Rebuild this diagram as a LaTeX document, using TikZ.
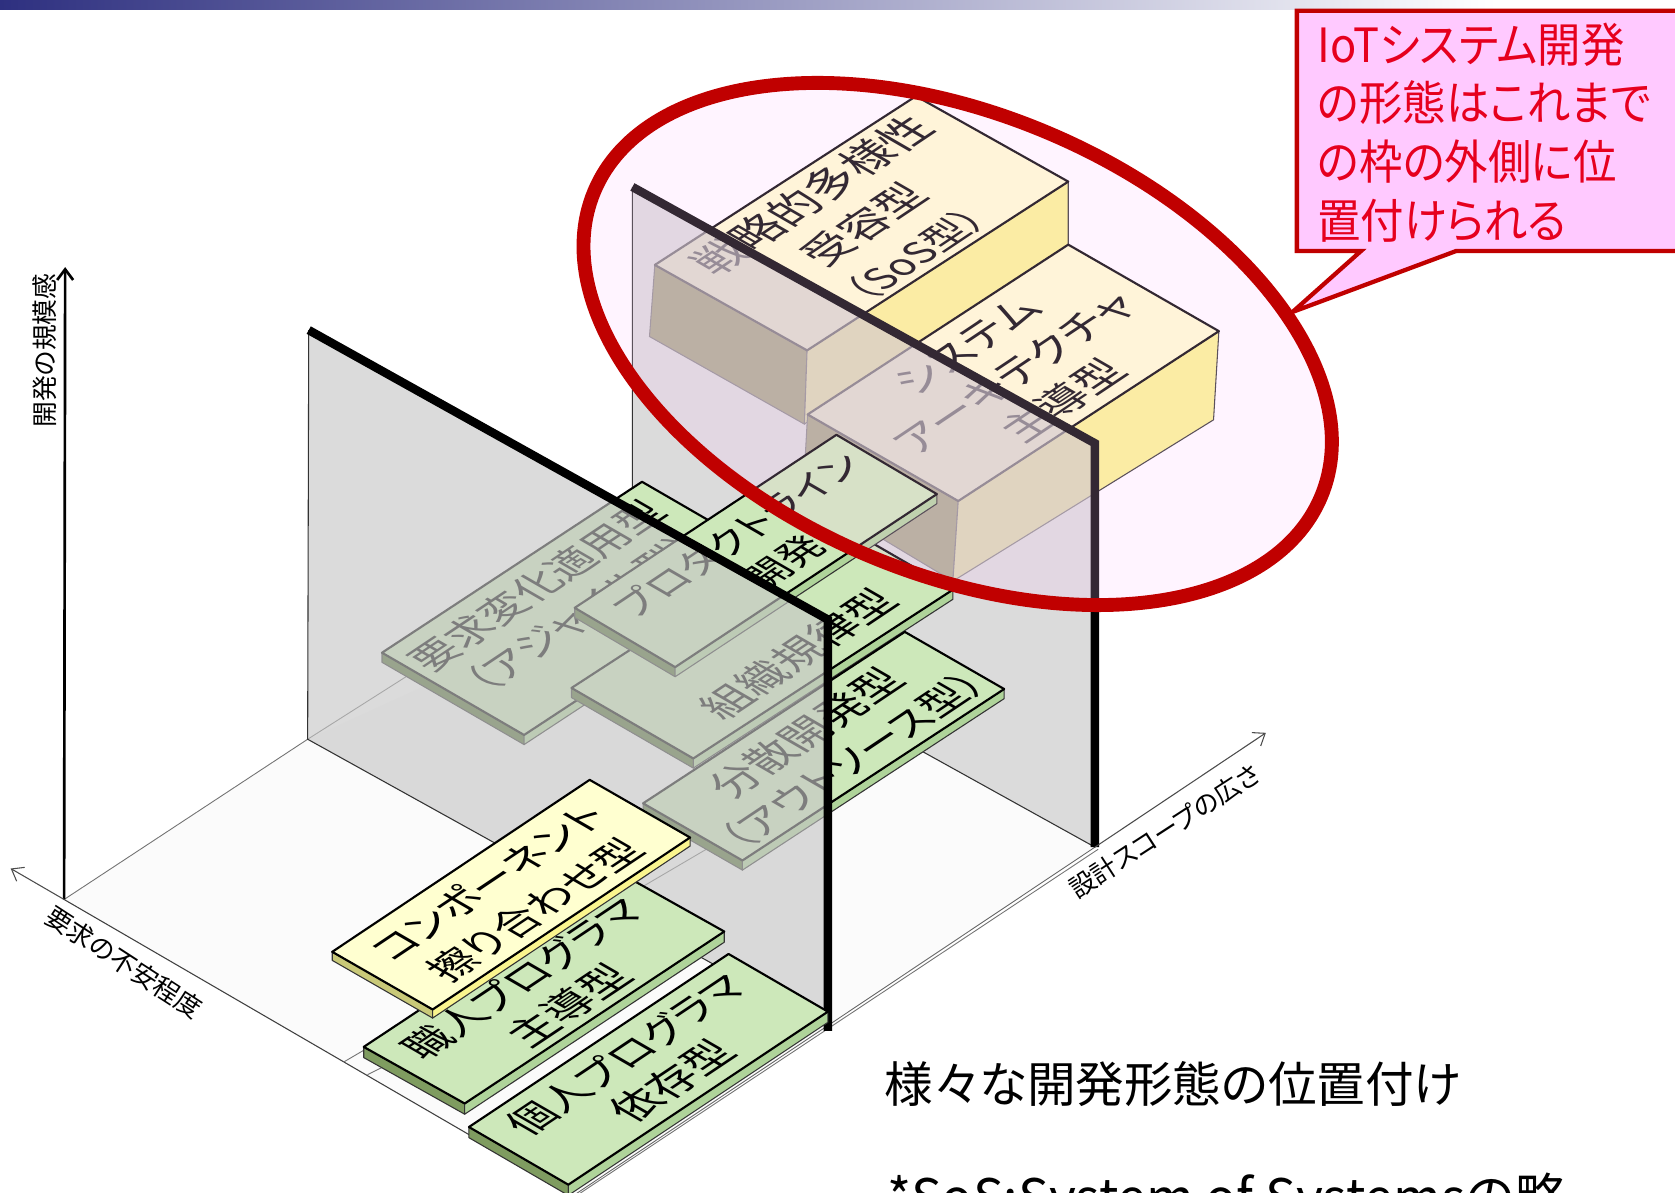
\documentclass[tikz,border=0pt]{standalone}
\usepackage{fontspec}
\setmainfont{Noto Sans CJK JP}[RawFeature=+palt]
\newfontfamily\narrowcjk{Noto Sans CJK JP}[RawFeature=+palt, FakeStretch=0.92]
\usetikzlibrary{calc}
\usetikzlibrary{arrows.meta}
\definecolor{ringred}{HTML}{C00000}
\definecolor{calloutpink}{HTML}{FFC9FF}
\definecolor{callouttext}{HTML}{E6001E}
\definecolor{planegray}{HTML}{C6C6C6}
\definecolor{barblue}{HTML}{2E3080}
\definecolor{plategreen}{HTML}{CDE8BA}
\definecolor{plateleft}{HTML}{7F9C60}
\definecolor{plateright}{HTML}{AFD49A}
\definecolor{plateshade}{HTML}{4E6C2C}
\definecolor{compyellow}{HTML}{FFFFD0}
\definecolor{compleft}{HTML}{C9C978}
\definecolor{compright}{HTML}{FAF58E}
\definecolor{blockleft}{HTML}{7F7B30}
\tikzset{
  every picture/.style={
    x=0.6pt, y=-0.6pt,
    >={Straight Barb[length=6pt, width=9pt]}
  },
  plateedge/.style={draw=black, line width=1.2pt, line join=round},
  sideedge/.style={draw=black!80, line width=0.6pt, line join=round},
  planeedge/.style={draw=black, line width=4.8pt, line join=miter},
  planeface/.style={fill=planegray, fill opacity=0.63},
  thinline/.style={draw=black!55, line width=0.5pt},
  axisline/.style={draw=black!70, line width=0.6pt, ->},
  onplate/.style={transform shape, align=center, inner sep=0pt, font=\fontsize{23}{30}\selectfont},
  axislabel/.style={inner sep=0pt, font=\fontsize{14.5}{16}\selectfont}
}
\newcommand{\plate}[6]{%
  \coordinate (l) at #1;
  \coordinate (t) at #2;
  \coordinate (r) at #3;
  \coordinate (b) at ($(l)+(r)-(t)$);
  \fill[#5, sideedge] (l) -- (b) -- ++(0,#4) -- ($(l)+(0,#4)$) -- cycle;
  \fill[#6, sideedge] (b) -- (r) -- ($(r)+(0,#4)$) -- ($(b)+(0,#4)$) -- cycle;
  \fill[plategreen, plateedge] (l) -- (t) -- (r) -- (b) -- cycle;
}
\newcommand{\blockbox}[6]{%
  \coordinate (l) at #1;
  \coordinate (t) at #2;
  \coordinate (r) at #3;
  \coordinate (b) at ($(l)+(r)-(t)$);
  \fill[blockleft, sideedge] (l) -- (b) -- #5 -- #4 -- cycle;
  \fill[compright, sideedge] (b) -- (r) -- #6 -- #5 -- cycle;
  \fill[compyellow, plateedge] (l) -- (t) -- (r) -- (b) -- cycle;
}
\newcommand{\platetext}[4][]{%
  \begin{scope}[shift={#3}, cm={0.83,0.555,-0.865,0.5,(0,0)}]
    \node[onplate, #1] (#2) {#4};
  \end{scope}
}
\begin{document}
\begin{tikzpicture}
  \useasboundingbox (0,0) rectangle (1568,1116);
  \shade[left color=barblue, right color=white] (0,0) rectangle (1400,9);
  \coordinate (origin) at (60,842);
  \coordinate (scopeend) at (1025,793);
  \coordinate (floorfront) at (537,1119);
  \coordinate (frontfoot) at (288,692);

  % floor
  \fill[black!1.5] (origin) -- (floorfront) -- (scopeend) -- (592,553) -- (frontfoot) -- cycle;
  \draw[black!75, line width=0.6pt] (origin) -- (floorfront);
  \draw[thinline] (origin) -- (frontfoot) -- (480,570);
  \draw[thinline] (322,994) -- (668,791);
  \draw[thinline] (344,1006) -- (358,999);
  \draw[black!60, line width=0.5pt] (floorfront) -- (scopeend);
  \draw[thinline] (540,1119) -- (1028,795);

  % blocks behind the rear plane
  \blockbox{(613,248)}{(857.5,90)}{(1000,170)}{(608,315)}{(753,397)}{(1000,229)}
  \platetext[font=\fontsize{25}{33}\selectfont]{sostext}{(808,210)}{戦略的多様性\\\fontsize{24}{33}\selectfont 受容型\\\fontsize{22}{33}\selectfont （SoS型）}
  \blockbox{(756,388)}{(1000,229)}{(1141,310)}{(752,460)}{(892,544)}{(1136,393)}
  \platetext[font=\fontsize{24}{31}\selectfont]{archtext}{(951,350)}{システム\\アーキテクチャ\\主導型}

  % rear plane
  \coordinate (reartl) at (592,175);
  \coordinate (reartr) at (1025,415);
  \coordinate (rearbl) at (592,553);
  \fill[planeface] (reartl) -- (reartr) -- (scopeend) -- (rearbl) -- cycle;
  \draw[black!80, line width=0.6pt] (reartl) -- (rearbl) -- (scopeend);
  \draw[planeedge] (reartl) -- (reartr) -- (scopeend);

  % plates behind the front plane
  \plate{(357.6,611)}{(601,451)}{(734,528)}{9}{plateshade}{plateright}
  \platetext{agiletext}{(525,561)}{要求変化適用型\\（アジャイル型）}
  \plate{(535,644)}{(778,486)}{(892,552)}{9}{plateshade}{plateright}
  \platetext[font=\fontsize{24}{30}\selectfont]{orgtext}{(747,612)}{組織規律型}
  \plate{(538,569)}{(783,407)}{(877,462.5)}{9}{plateshade}{plateright}
  \platetext[font=\fontsize{22}{30}\selectfont]{plinetext}{(712,514)}{プロダクトライン\\開発}
  \plate{(602,752)}{(847,591.5)}{(940,645)}{9}{plateshade}{plateright}
  \platetext{outsrctext}{(776,699)}{\fontsize{24}{30}\selectfont 分散開発型\\（アウトソース型）}

  % front plane
  \coordinate (fronttl) at (289,309);
  \coordinate (fronttr) at (775,580);
  \coordinate (frontbr) at (775,965);
  \fill[planeface] (fronttl) -- (fronttr) -- (775,962) -- (frontfoot) -- cycle;
  \draw[black!80, line width=0.6pt] (fronttl) -- (frontfoot) -- (775,962);
  \draw[planeedge] (fronttl) -- (fronttr) -- (frontbr);

  % plates in front of it
  \plate{(340.5,980)}{(583.5,819)}{(678,872)}{10}{plateleft}{plateright}
  \platetext{craftext}{(511,929)}{職人プログラマ\\\fontsize{24}{30}\selectfont 主導型}
  \coordinate (l) at (311,891);
  \coordinate (t) at (552,730);
  \coordinate (r) at (646,784);
  \coordinate (b) at ($(l)+(r)-(t)$);
  \fill[compleft, sideedge] (l) -- (b) -- ++(0,8) -- ($(l)+(0,8)$) -- cycle;
  \fill[compright, sideedge] (b) -- (r) -- ($(r)+(0,8)$) -- ($(b)+(0,8)$) -- cycle;
  \fill[compyellow, plateedge] (l) -- (t) -- (r) -- (b) -- cycle;
  \platetext{comptext}{(479,839)}{コンポーネント\\擦り合わせ型}
  \plate{(439,1055)}{(682,893)}{(775,947)}{10}{plateleft}{plateright}
  \platetext{solotext}{(608,1000)}{個人プログラマ\\\fontsize{24}{30}\selectfont 依存型}

  % axes
  \draw[black, line width=1.5pt, ->] (origin) -- (61,250);
  \draw[axisline] (origin) -- (10,813);
  \draw[axisline] (scopeend) -- (1185,686);
  \node[axislabel, rotate=90] (scalelabel) at (42,328) {開発の規模感};
  \node[axislabel, rotate=-33] (reqlabel) at (116,901) {要求の不安程度};
  \node[axislabel, rotate=33] (scopelabel) at (1090,778) {設計スコープの広さ};

  % ring and callout
  \draw[draw=ringred, line width=7.8pt, fill=calloutpink, fill opacity=0.2, draw opacity=1,
    rotate around={-22.8:(896.5,322)}] (896.5,322) ellipse [x radius=369, y radius=215];
  \fill[calloutpink, draw=ringred, line width=2.4pt, line join=miter]
    (1214,10) -- (1580,10) -- (1580,235) -- (1363,235) -- (1210,292) -- (1274,235) -- (1214,235) -- cycle;
  \node[anchor=west, align=left, inner sep=0pt, text=callouttext, font=\narrowcjk\fontsize{26.5}{33}\selectfont] (callouttxt) at (1233,124)
    {IoTシステム開発\\の形態はこれまで\\の枠の外側に位\\置付けられる};

  \node[anchor=west, inner sep=0pt, font=\fontsize{27.3}{30}\selectfont] (titletxt) at (828,1015) {様々な開発形態の位置付け};
  \node[anchor=west, inner sep=0pt, font=\fontsize{29}{30}\selectfont] (notetxt) at (830,1124) {*SoS:System of Systemsの略};
\end{tikzpicture}
\end{document}
